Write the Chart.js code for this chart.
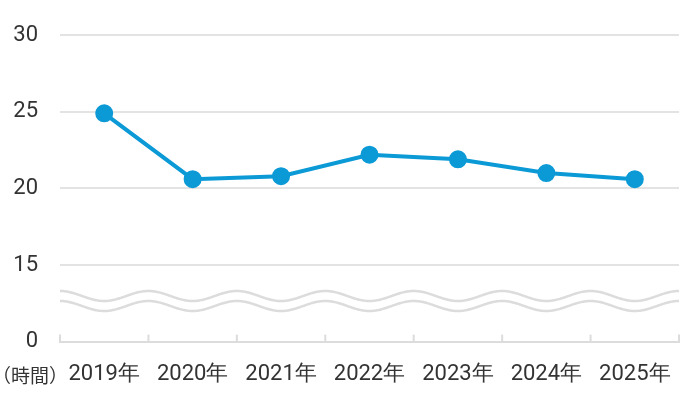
<!DOCTYPE html>
<html><head><meta charset="utf-8">
<script src="https://cdn.jsdelivr.net/npm/chart.js@4"></script>
<style>body{margin:0;background:#fff}#wrap{width:690px;height:400px}</style>
</head><body><div id="wrap"><canvas id="c"></canvas></div>
<script>
const years = ["2019年", "2020年", "2021年", "2022年", "2023年", "2024年", "2025年"];
const hours = [24.9, 20.6, 20.8, 22.2, 21.9, 21.0, 20.6];
// value 10 on the scale is shown as "0" (broken axis)
const yTicks = [10, 15, 20, 25, 30];

const extras = {
  id: "extras",
  beforeDatasetsDraw(chart) {
    const ctx = chart.ctx, a = chart.chartArea, x = chart.scales.x;
    ctx.save();
    // tick marks on baseline, pointing up
    ctx.strokeStyle = "#dcdcdc"; ctx.lineWidth = 2;
    const step = x.getPixelForValue(1) - x.getPixelForValue(0);
    for (let i = 0; i <= years.length; i++) {
      const px = x.getPixelForValue(0) - step / 2 + i * step;
      ctx.beginPath(); ctx.moveTo(px, a.bottom); ctx.lineTo(px, a.bottom - 7); ctx.stroke();
    }
    // wavy break lines
    ctx.lineWidth = 2.5;
    [296, 306].forEach(cy => {
      ctx.beginPath();
      for (let px = a.left; px <= a.right; px++) {
        const t = (px - x.getPixelForValue(0)) / step * 2 * Math.PI;
        const py = cy + 5 * Math.cos(t);
        px === a.left ? ctx.moveTo(px, py) : ctx.lineTo(px, py);
      }
      ctx.stroke();
    });
    ctx.fillStyle = "#333"; ctx.font = "19px 'Noto Sans CJK JP'";
    ctx.textBaseline = "middle"; ctx.textAlign = "left";
    ctx.fillText("（時間）", -8, 376);
    ctx.restore();
  }
};

new Chart(document.getElementById("c"), {
  type: "line",
  data: { labels: years, datasets: [{
    data: hours, borderColor: "#0b9ad6", backgroundColor: "#0b9ad6",
    borderWidth: 4, pointRadius: 7, pointHoverRadius: 7, tension: 0
  }]},
  options: {
    responsive: true, maintainAspectRatio: false, animation: false,
    layout: { padding: { top: -7, right: -12 } },
    plugins: { legend: { display: false }, tooltip: { enabled: false } },
    scales: {
      x: {
        offset: true,
        grid: { display: false },
        border: { color: "#dcdcdc", width: 2 },
        ticks: { color: "#333", font: { family: "Roboto", size: 22 }, padding: 12, maxRotation: 0 }
      },
      y: {
        min: 10, max: 30,
        afterBuildTicks: s => { s.ticks = yTicks.map(v => ({ value: v })); },
        afterFit: s => { s.width = 60; },
        grid: { color: c => c.tick.value === 10 ? "rgba(0,0,0,0)" : "#e3e3e3", lineWidth: 2, drawTicks: false },
        border: { display: false },
        ticks: { color: "#333", font: { family: "Roboto", size: 22 }, padding: 22,
          callback: v => v === 10 ? "0" : v }
      }
    }
  },
  plugins: [extras]
});
</script></body></html>
